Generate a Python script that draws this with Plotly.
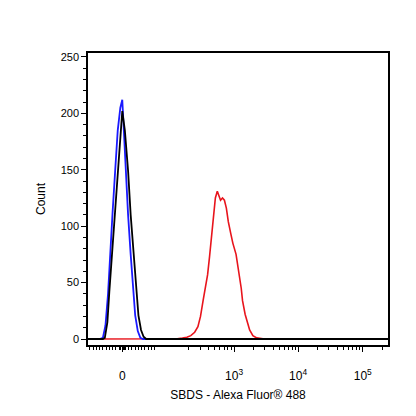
import plotly.graph_objects as go
import numpy as np

blue_x = [-0.53, -0.35, -0.30, -0.26, -0.22, -0.19, -0.15, -0.11, -0.07, -0.03, 0.0, 0.02, 0.05, 0.09, 0.13, 0.17, 0.20, 0.24, 0.28, 0.32, 4.11]
blue_y = [0, 0, 1, 12, 40, 75, 112, 149, 185, 205, 212, 190, 149, 110, 75, 45, 21, 7, 1, 0, 0]

black_x = [-0.53, -0.30, -0.27, -0.23, -0.20, -0.16, -0.12, -0.07, -0.03, 0.0, 0.04, 0.09, 0.13, 0.18, 0.22, 0.25, 0.29, 0.33, 0.37, 4.11]
black_y = [0, 0, 1, 15, 42, 75, 112, 149, 185, 202, 185, 149, 110, 75, 42, 21, 8, 2, 0, 0]

red_x = [-0.53, 0.72, 0.85, 0.93, 1.0, 1.06, 1.12, 1.17, 1.21, 1.25, 1.29, 1.32, 1.35, 1.38, 1.41, 1.44, 1.47, 1.50, 1.52, 1.55, 1.58, 1.61, 1.64, 1.68, 1.71, 1.76, 1.81, 1.84, 1.86, 1.90, 1.94, 1.97, 2.02, 2.08, 2.2, 4.11]
red_y = [0, 0, 0.3, 0.8, 1.5, 3, 6, 11, 20, 34, 46, 57, 73, 90, 108, 125, 131, 127, 123, 125, 123, 116, 104, 93, 85, 75, 57, 45, 34, 22, 14, 8, 3, 1, 0, 0]

tick_vals = [0, 1.73, 2.72, 3.72]
tick_text = ["0", "10<sup>3</sup>", "10<sup>4</sup>", "10<sup>5</sup>"]

minor = []
for base in [1.73, 2.72, 3.72]:
    for k in range(2, 10):
        p = base + np.log10(k)
        if p < 4.11:
            minor.append(p)
for k in range(2, 10):
    minor.append(1.73 - 1 + np.log10(k))
minor += [-0.5, -0.45, -0.4, -0.35, -0.3, -0.25, -0.2, -0.15, -0.1, -0.05, -0.03, -0.02,
          0.02, 0.03, 0.05, 0.1, 0.15, 0.2, 0.25, 0.3, 0.35, 0.4, 0.45, 0.5]

fig = go.Figure()
fig.add_trace(go.Scatter(x=red_x, y=red_y, mode="lines", line=dict(color="#e8141c", width=1.6)))
fig.add_trace(go.Scatter(x=blue_x, y=blue_y, mode="lines", line=dict(color="#1a1aff", width=1.8)))
fig.add_trace(go.Scatter(x=black_x, y=black_y, mode="lines", line=dict(color="black", width=1.8)))

fig.update_layout(
    width=416, height=416, showlegend=False,
    plot_bgcolor="white", paper_bgcolor="white",
    margin=dict(l=80, r=36, t=45, b=79),
    font=dict(family="Liberation Sans, Arial", size=11, color="black"),
    xaxis=dict(range=[-0.53, 4.11], tickvals=tick_vals, ticktext=tick_text,
               showgrid=False, zeroline=False, showline=True, linecolor="black", linewidth=1.5,
               mirror=True, ticks="outside", ticklen=5, tickcolor="black", ticklabelstandoff=14,
               tickfont=dict(size=12),
               minor=dict(tickvals=minor, ticks="outside", ticklen=3, tickcolor="black"),
               title=dict(text="SBDS - Alexa Fluor® 488", font=dict(size=12), standoff=8)),
    yaxis=dict(range=[-5.3, 253.5], tickvals=[0, 50, 100, 150, 200, 250],
               showgrid=False, zeroline=False, showline=True, linecolor="black", linewidth=1.5,
               mirror=True, ticks="outside", ticklen=5, tickcolor="black",
               minor=dict(dtick=10, ticks="outside", ticklen=3, tickcolor="black"),
               title=dict(text="Count", font=dict(size=12), standoff=12)),
)
fig.write_html("out.html")
